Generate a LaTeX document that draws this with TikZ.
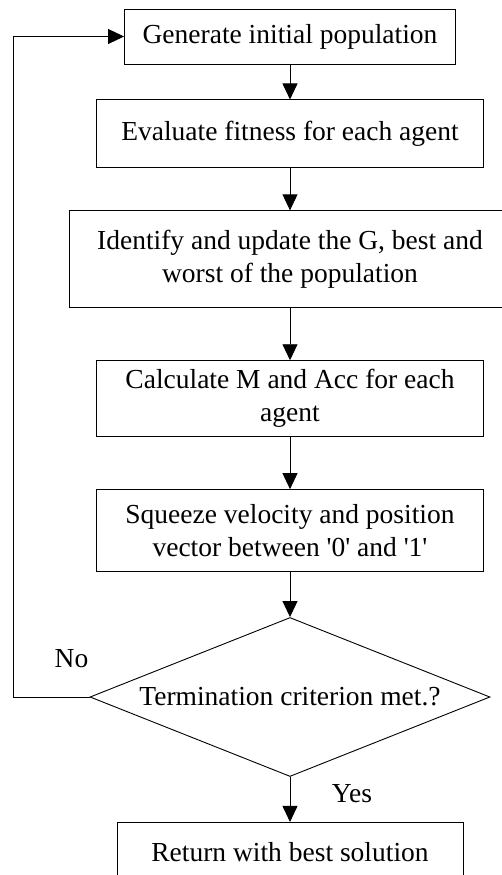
\documentclass[tikz,border=0pt]{standalone}
\usepackage{fontspec}
\setmainfont{Liberation Serif}
\usepackage{tikz}
\usetikzlibrary{arrows.meta,positioning,shapes.geometric}

\begin{document}
\begin{tikzpicture}[x=1pt,y=-1pt,font=\fontsize{27.5}{33}\selectfont,
  n/.style={draw,line width=0.9pt,inner sep=0pt,align=center,minimum width=387pt},
  dn/.style={draw,line width=0.9pt,diamond,aspect=2.5,inner sep=0pt,
             minimum width=400pt,minimum height=159pt},
  ar/.style={-{Triangle[length=16pt,width=15pt]},line width=0.9pt},
  lbl/.style={inner sep=0pt},
]
\useasboundingbox (0,0) rectangle (501,875);
\node[n,minimum width=331pt,minimum height=55pt] (init) at (290,36.5) {Generate initial population};
\node[n,minimum height=68pt,below=35pt of init] (fit) {Evaluate fitness for each agent};
\node[n,minimum width=442pt,minimum height=97pt,below=42pt of fit] (upd) {Identify and update the G, best and\\ worst of the population};
\node[n,minimum height=76pt,below=52pt of upd] (acc) {Calculate M and Acc for each\\ agent};
\node[n,minimum height=82pt,below=52pt of acc] (sqz) {Squeeze velocity and position\\ vector between \textquotesingle0\textquotesingle\ and \textquotesingle1\textquotesingle};
\node[dn,below=45pt of sqz] (term) {Termination criterion met.?};
\node[n,minimum width=346pt,minimum height=60pt,below=45pt of term] (ret) {Return with best solution};
\coordinate (back) at (13,36.5);

\draw[ar] (init) -- (fit);
\draw[ar] (fit) -- (upd);
\draw[ar] (upd) -- (acc);
\draw[ar] (acc) -- (sqz);
\draw[ar] (sqz) -- (term);
\draw[ar] (term) -- (ret);
\draw[ar] (term.west) -| (back) -- (init.west);

\node[lbl] (no) at ([xshift=-18pt,yshift=38pt]term.west) {No};
\node[lbl] (yes) at ([xshift=62pt,yshift=-17pt]term.south) {Yes};
\end{tikzpicture}
\end{document}
